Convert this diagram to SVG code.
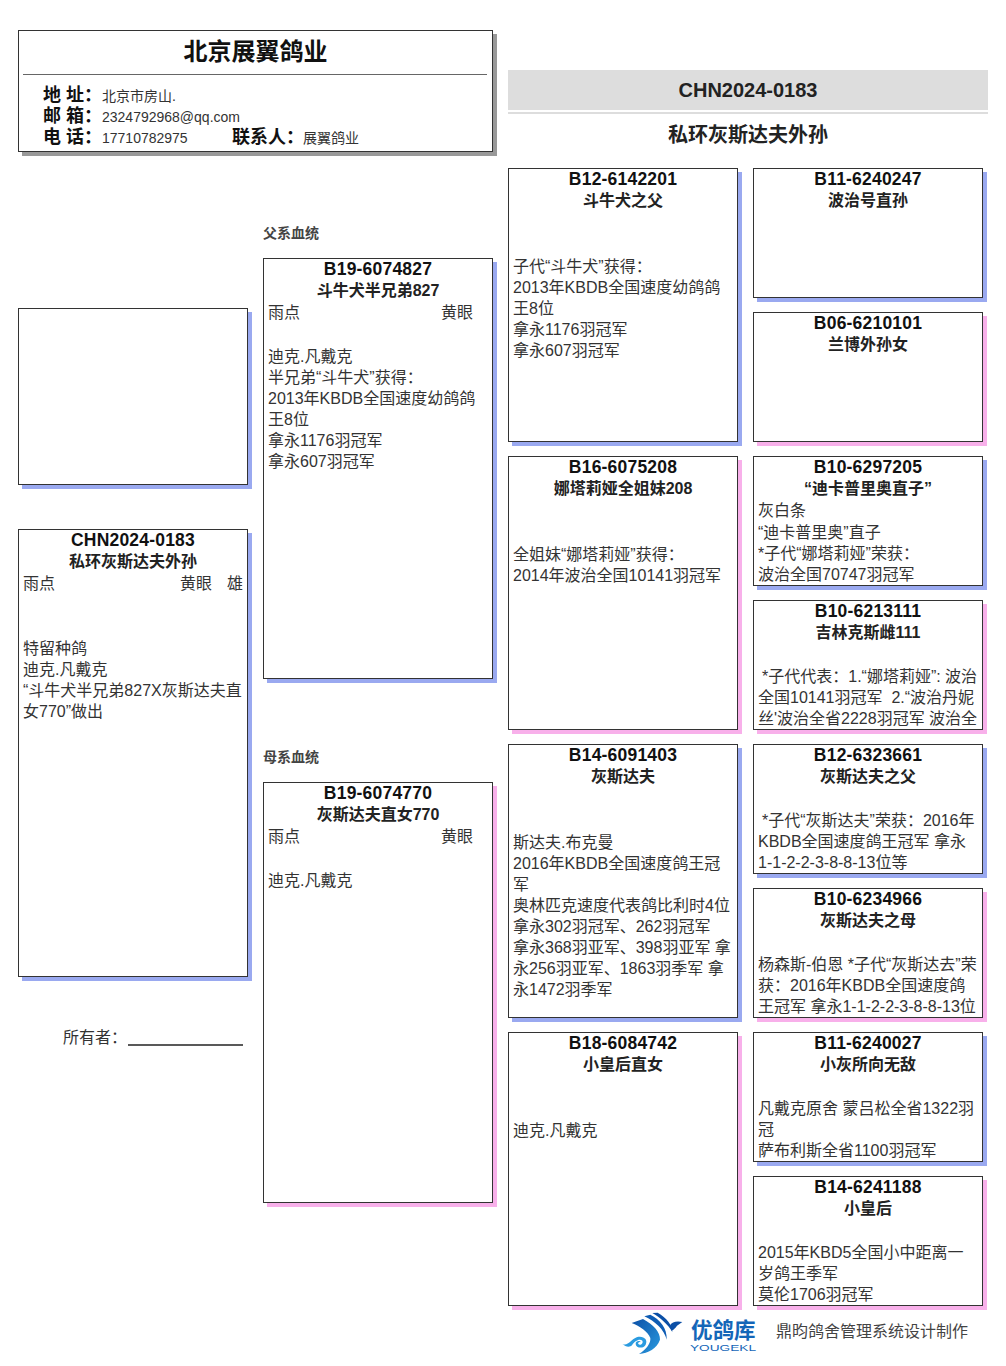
<svg xmlns="http://www.w3.org/2000/svg" width="1006" height="1366" viewBox="0 0 1006 1366">
<defs><linearGradient id="lg" x1="0" y1="0" x2="1" y2="1"><stop offset="0" stop-color="#0b4fa6"/><stop offset="1" stop-color="#2a9be0"/></linearGradient></defs>
<style>
text{font-family:"Liberation Sans","Noto Sans CJK SC",sans-serif;font-size:16px;fill:#333}
.b{fill:#fff;stroke:#333;stroke-width:1}
.sb{fill:#9aa9f0}.sp{fill:#f8b0ea}.sg{fill:#999}
.h{font-weight:bold;fill:#111;text-anchor:middle;font-size:17.5px;letter-spacing:.2px}
.n{font-weight:bold;fill:#222;text-anchor:middle}
.l{font-weight:bold;fill:#111;font-size:18px}
.s{font-size:14px;fill:#333}
.m{font-weight:bold;font-size:14px;fill:#444}
</style>
<g id="header">
<rect class="sg" x="22" y="34" width="475" height="122"/>
<rect class="b" x="18.500" y="30.500" width="474" height="121"/>
<text x="255.500" y="60" style="font-weight:bold;font-size:24px;fill:#111;text-anchor:middle">北京展翼鸽业</text>
<line x1="23" y1="74.500" x2="487" y2="74.500" stroke="#666"/>
<text class="l" x="43" y="101">地 址：</text><text class="s" x="102" y="101">北京市房山.</text>
<text class="l" x="43" y="122">邮 箱：</text><text class="s" x="102" y="122">2324792968@qq.com</text>
<text class="l" x="43" y="143">电 话：</text><text class="s" x="102" y="143">17710782975</text>
<text class="l" x="232" y="143">联系人：</text><text class="s" x="303" y="143">展翼鸽业</text>
</g>
<g id="title">
<rect x="508" y="70" width="480" height="40" fill="#ddd"/><rect x="508" y="112" width="480" height="2" fill="#ddd"/>
<text x="748" y="97" class="h" style="font-size:20px;fill:#222;letter-spacing:0">CHN2024-0183</text>
<text x="748" y="142" class="h" style="font-size:20px;fill:#222;letter-spacing:0">私环灰斯达夫外孙</text>
</g>
<g id="labels">
<text class="m" x="263" y="238">父系血统</text>
<text class="m" x="263" y="762">母系血统</text>
<text x="63" y="1043">所有者：</text>
<line x1="128" y1="1045" x2="243" y2="1045" stroke="#222" stroke-width="1.300"/>
</g>
<g id="photo"><rect class="sb" x="22" y="312" width="230" height="177"/><rect class="b" x="18.500" y="308.500" width="229" height="176"/></g>
<g id="subject"><rect class="sb" x="22" y="533" width="230" height="448"/><rect class="b" x="18.500" y="529.500" width="229" height="447"/>
<text class="h" x="133" y="546">CHN2024-0183</text><text class="n" x="133" y="567">私环灰斯达夫外孙</text>
<text x="23" y="589">雨点</text><text x="180" y="589">黄眼</text><text x="227" y="589">雄</text>
<text x="23" y="654">特留种鸽</text><text x="23" y="675">迪克.凡戴克</text><text x="23" y="696">“斗牛犬半兄弟827X灰斯达夫直</text><text x="23" y="717">女770”做出</text></g>
<g id="n-B19-6074827"><rect class="sb" x="267" y="262" width="230" height="421"/><rect class="b" x="263.500" y="258.500" width="229" height="420"/>
<text class="h" x="378" y="275">B19-6074827</text><text class="n" x="378" y="296">斗牛犬半兄弟827</text>
<text x="268" y="318">雨点</text><text x="441" y="318">黄眼</text>
<text x="268" y="362">迪克.凡戴克</text><text x="268" y="383">半兄弟“斗牛犬”获得：</text><text x="268" y="404">2013年KBDB全国速度幼鸽鸽</text><text x="268" y="425">王8位</text><text x="268" y="446">拿永1176羽冠军</text><text x="268" y="467">拿永607羽冠军</text></g>
<g id="n-B19-6074770"><rect class="sp" x="267" y="786" width="230" height="421"/><rect class="b" x="263.500" y="782.500" width="229" height="420"/>
<text class="h" x="378" y="799">B19-6074770</text><text class="n" x="378" y="820">灰斯达夫直女770</text>
<text x="268" y="842">雨点</text><text x="441" y="842">黄眼</text><text x="268" y="886">迪克.凡戴克</text></g>
<g id="n-B12-6142201"><rect class="sb" x="512" y="172" width="230" height="274"/><rect class="b" x="508.500" y="168.500" width="229" height="273"/>
<text class="h" x="623" y="185">B12-6142201</text><text class="n" x="623" y="206">斗牛犬之父</text>
<text x="513" y="272">子代“斗牛犬”获得：</text><text x="513" y="293">2013年KBDB全国速度幼鸽鸽</text><text x="513" y="314">王8位</text><text x="513" y="335">拿永1176羽冠军</text><text x="513" y="356">拿永607羽冠军</text></g>
<g id="n-B16-6075208"><rect class="sp" x="512" y="460" width="230" height="274"/><rect class="b" x="508.500" y="456.500" width="229" height="273"/>
<text class="h" x="623" y="473">B16-6075208</text><text class="n" x="623" y="494">娜塔莉娅全姐妹208</text>
<text x="513" y="560">全姐妹“娜塔莉娅”获得：</text><text x="513" y="581">2014年波治全国10141羽冠军</text></g>
<g id="n-B14-6091403"><rect class="sb" x="512" y="748" width="230" height="274"/><rect class="b" x="508.500" y="744.500" width="229" height="273"/>
<text class="h" x="623" y="761">B14-6091403</text><text class="n" x="623" y="782">灰斯达夫</text>
<text x="513" y="848">斯达夫.布克曼</text><text x="513" y="869">2016年KBDB全国速度鸽王冠</text><text x="513" y="890">军</text><text x="513" y="911">奥林匹克速度代表鸽比利时4位</text><text x="513" y="932">拿永302羽冠军、262羽冠军</text><text x="513" y="953">拿永368羽亚军、398羽亚军 拿</text><text x="513" y="974">永256羽亚军、1863羽季军 拿</text><text x="513" y="995">永1472羽季军</text></g>
<g id="n-B18-6084742"><rect class="sp" x="512" y="1036" width="230" height="274"/><rect class="b" x="508.500" y="1032.500" width="229" height="273"/>
<text class="h" x="623" y="1049">B18-6084742</text><text class="n" x="623" y="1070">小皇后直女</text><text x="513" y="1136">迪克.凡戴克</text></g>
<g id="n-B11-6240247"><rect class="sb" x="757" y="172" width="230" height="130"/><rect class="b" x="753.500" y="168.500" width="229" height="129"/>
<text class="h" x="868" y="185">B11-6240247</text><text class="n" x="868" y="206">波治号直孙</text></g>
<g id="n-B06-6210101"><rect class="sp" x="757" y="316" width="230" height="130"/><rect class="b" x="753.500" y="312.500" width="229" height="129"/>
<text class="h" x="868" y="329">B06-6210101</text><text class="n" x="868" y="350">兰博外孙女</text></g>
<g id="n-B10-6297205"><rect class="sb" x="757" y="460" width="230" height="130"/><rect class="b" x="753.500" y="456.500" width="229" height="129"/>
<text class="h" x="868" y="473">B10-6297205</text><text class="n" x="868" y="494">“迪卡普里奥直子”</text>
<text x="758" y="516">灰白条</text><text x="758" y="538">“迪卡普里奥”直子</text><text x="758" y="559">*子代“娜塔莉娅”荣获：</text><text x="758" y="580">波治全国70747羽冠军</text></g>
<g id="n-B10-6213111"><rect class="sp" x="757" y="604" width="230" height="130"/><rect class="b" x="753.500" y="600.500" width="229" height="129"/>
<text class="h" x="868" y="617">B10-6213111</text><text class="n" x="868" y="638">吉林克斯雌111</text>
<text x="762" y="682">*子代代表：1.“娜塔莉娅”: 波治</text><text x="758" y="703">全国10141羽冠军 &#160;2.“波治丹妮</text><text x="758" y="724">丝'波治全省2228羽冠军 波治全</text></g>
<g id="n-B12-6323661"><rect class="sb" x="757" y="748" width="230" height="130"/><rect class="b" x="753.500" y="744.500" width="229" height="129"/>
<text class="h" x="868" y="761">B12-6323661</text><text class="n" x="868" y="782">灰斯达夫之父</text>
<text x="762" y="826">*子代“灰斯达夫”荣获：2016年</text><text x="758" y="847">KBDB全国速度鸽王冠军 拿永</text><text x="758" y="868">1-1-2-2-3-8-8-13位等</text></g>
<g id="n-B10-6234966"><rect class="sp" x="757" y="892" width="230" height="130"/><rect class="b" x="753.500" y="888.500" width="229" height="129"/>
<text class="h" x="868" y="905">B10-6234966</text><text class="n" x="868" y="926">灰斯达夫之母</text>
<text x="758" y="970">杨森斯-伯恩 *子代“灰斯达去”荣</text><text x="758" y="991">获：2016年KBDB全国速度鸽</text><text x="758" y="1012">王冠军 拿永1-1-2-2-3-8-8-13位</text></g>
<g id="n-B11-6240027"><rect class="sb" x="757" y="1036" width="230" height="130"/><rect class="b" x="753.500" y="1032.500" width="229" height="129"/>
<text class="h" x="868" y="1049">B11-6240027</text><text class="n" x="868" y="1070">小灰所向无敌</text>
<text x="758" y="1114">凡戴克原舍 蒙吕松全省1322羽</text><text x="758" y="1135">冠</text><text x="758" y="1156">萨布利斯全省1100羽冠军</text></g>
<g id="n-B14-6241188"><rect class="sp" x="757" y="1180" width="230" height="130"/><rect class="b" x="753.500" y="1176.500" width="229" height="129"/>
<text class="h" x="868" y="1193">B14-6241188</text><text class="n" x="868" y="1214">小皇后</text>
<text x="758" y="1258">2015年KBD5全国小中距离一</text><text x="758" y="1279">岁鸽王季军</text><text x="758" y="1300">莫伦1706羽冠军</text></g>
<g id="footer">
<g transform="translate(615 1308) scale(.3333)">
<path d="M112 15 L128 14 C155 30 172 50 172 72 C160 50 135 28 112 15Z" fill="#0b4fa6"/>
<path d="M88 25 L106 20 C135 35 157 60 155 95 C148 65 120 40 88 25Z" fill="#0e5cb4"/>
<path d="M50 45 L84 33 C115 50 136 72 135 95 C125 122 100 135 72 138 C94 125 108 105 106 90 C98 70 75 55 50 45Z" fill="url(#lg)"/>
<path d="M165 52 C170 42 185 38 202 42 L186 53 C181 60 176 66 170 68Z" fill="#0b4fa6"/>
<path d="M22 108 C40 115 46 96 65 88 C85 82 100 95 92 110 C85 124 62 120 62 107 C62 98 74 96 78 103 C72 100 68 104 70 108 C76 114 86 106 82 98 C74 90 58 100 52 110 C44 120 32 116 22 108Z" fill="#2a9be0"/>
</g>
<text x="691" y="1338" style="font-weight:bold;font-size:21.500px;fill:#1466b8">优鸽库</text>
<text x="690" y="1351" textLength="66" lengthAdjust="spacingAndGlyphs" style="font-size:8.500px;fill:#1466b8">YOUGEKL</text>
<text x="776" y="1337" style="font-size:16px;fill:#444">鼎昀鸽舍管理系统设计制作</text>
</g>
</svg>
